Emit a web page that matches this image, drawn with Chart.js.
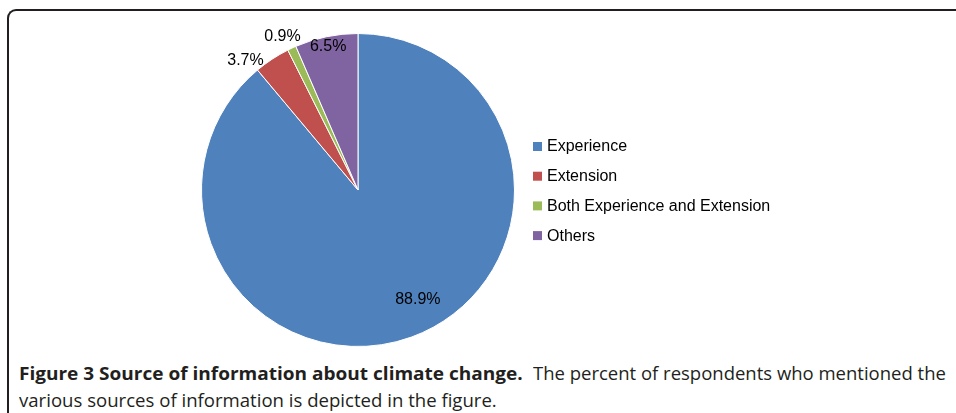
<!DOCTYPE html>
<html>
<head>
<meta charset="utf-8">
<script src="https://cdn.jsdelivr.net/npm/chart.js@4"></script>
<style>
  html, body { margin: 0; padding: 0; background: #fff; }
  #wrap { position: relative; width: 956px; height: 413px; overflow: hidden; }
  #frame {
    position: absolute; left: 7px; top: 9px; width: 1000px; height: 500px;
    border-left: 2px solid #231f20; border-top: 2px solid #231f20;
    border-top-left-radius: 9px;
  }
  #chartBox { position: absolute; left: 0; top: 0; width: 956px; height: 360px; }
  .cap {
    position: absolute; font-family: "Open Sans", sans-serif; font-size: 18px;
    line-height: 27px; color: #231f20; white-space: nowrap; transform-origin: 0 0;
  }
  .cap.bold { font-weight: 700; }
</style>
</head>
<body>
<div id="wrap">
  <div id="frame"></div>
  <div id="chartBox"><canvas id="pie"></canvas></div>
  <span class="cap bold" style="left:19px; top:360px" data-w="504">Figure 3 Source of information about climate change.</span>
  <span class="cap" style="left:533px; top:360px" data-w="413">The percent of respondents who mentioned the</span>
  <span class="cap" style="left:19px; top:387px" data-w="478">various sources of information is depicted in the figure.</span>
</div>
<script>
// data
const categories = ["Experience", "Extension", "Both Experience and Extension", "Others"];
const percents = [88.9, 3.7, 0.9, 6.5];
const colors = ["#4f81bd", "#c0504d", "#9bbb59", "#8064a2"];

// where each percent label sits: fraction of radius, nudge in degrees
const labelSpots = [
  { r: 0.79, turn: -9 },
  { r: 1.10, turn: -7.5 },
  { r: 1.10, turn: -1 },
  { r: 0.94, turn: 0 }
];

// squeeze caption pieces to the width of the narrow journal face
document.querySelectorAll(".cap").forEach(el => {
  el.style.transform = "scaleX(" + (el.dataset.w / el.offsetWidth).toFixed(4) + ")";
});

const sliceLabels = {
  id: "sliceLabels",
  afterDatasetsDraw(chart) {
    const ctx = chart.ctx;
    const arcs = chart.getDatasetMeta(0).data;
    ctx.save();
    ctx.font = "16px 'Liberation Sans', Arial, sans-serif";
    ctx.fillStyle = "#000";
    ctx.textAlign = "center";
    ctx.textBaseline = "middle";
    arcs.forEach((arc, i) => {
      const p = arc.getProps(["x", "y", "startAngle", "endAngle", "outerRadius"], true);
      const a = (p.startAngle + p.endAngle) / 2 + labelSpots[i].turn * Math.PI / 180;
      const rr = p.outerRadius * labelSpots[i].r;
      ctx.fillText(percents[i].toFixed(1) + "%", p.x + Math.cos(a) * rr, p.y + Math.sin(a) * rr + 1);
    });
    ctx.restore();
  }
};

const sideLegend = {
  id: "sideLegend",
  afterDraw(chart) {
    const ctx = chart.ctx;
    ctx.save();
    ctx.font = "16px 'Liberation Sans', Arial, sans-serif";
    ctx.textBaseline = "middle";
    categories.forEach((name, i) => {
      const y = 146 + i * 29.7;
      ctx.fillStyle = colors[i];
      ctx.fillRect(533, y - 4, 9, 9);
      ctx.fillStyle = "#000";
      ctx.fillText(name, 547, y + 1);
    });
    ctx.restore();
  }
};

new Chart(document.getElementById("pie"), {
  type: "pie",
  data: {
    labels: categories,
    datasets: [{
      data: percents,
      backgroundColor: colors,
      borderColor: "#ffffff",
      borderWidth: 1
    }]
  },
  options: {
    responsive: true, maintainAspectRatio: false, animation: false,
    layout: { padding: { left: 201, right: 441, top: 33, bottom: 13 } },
    plugins: { legend: { display: false }, tooltip: { enabled: false } }
  },
  plugins: [sliceLabels, sideLegend]
});
</script>
</body>
</html>
